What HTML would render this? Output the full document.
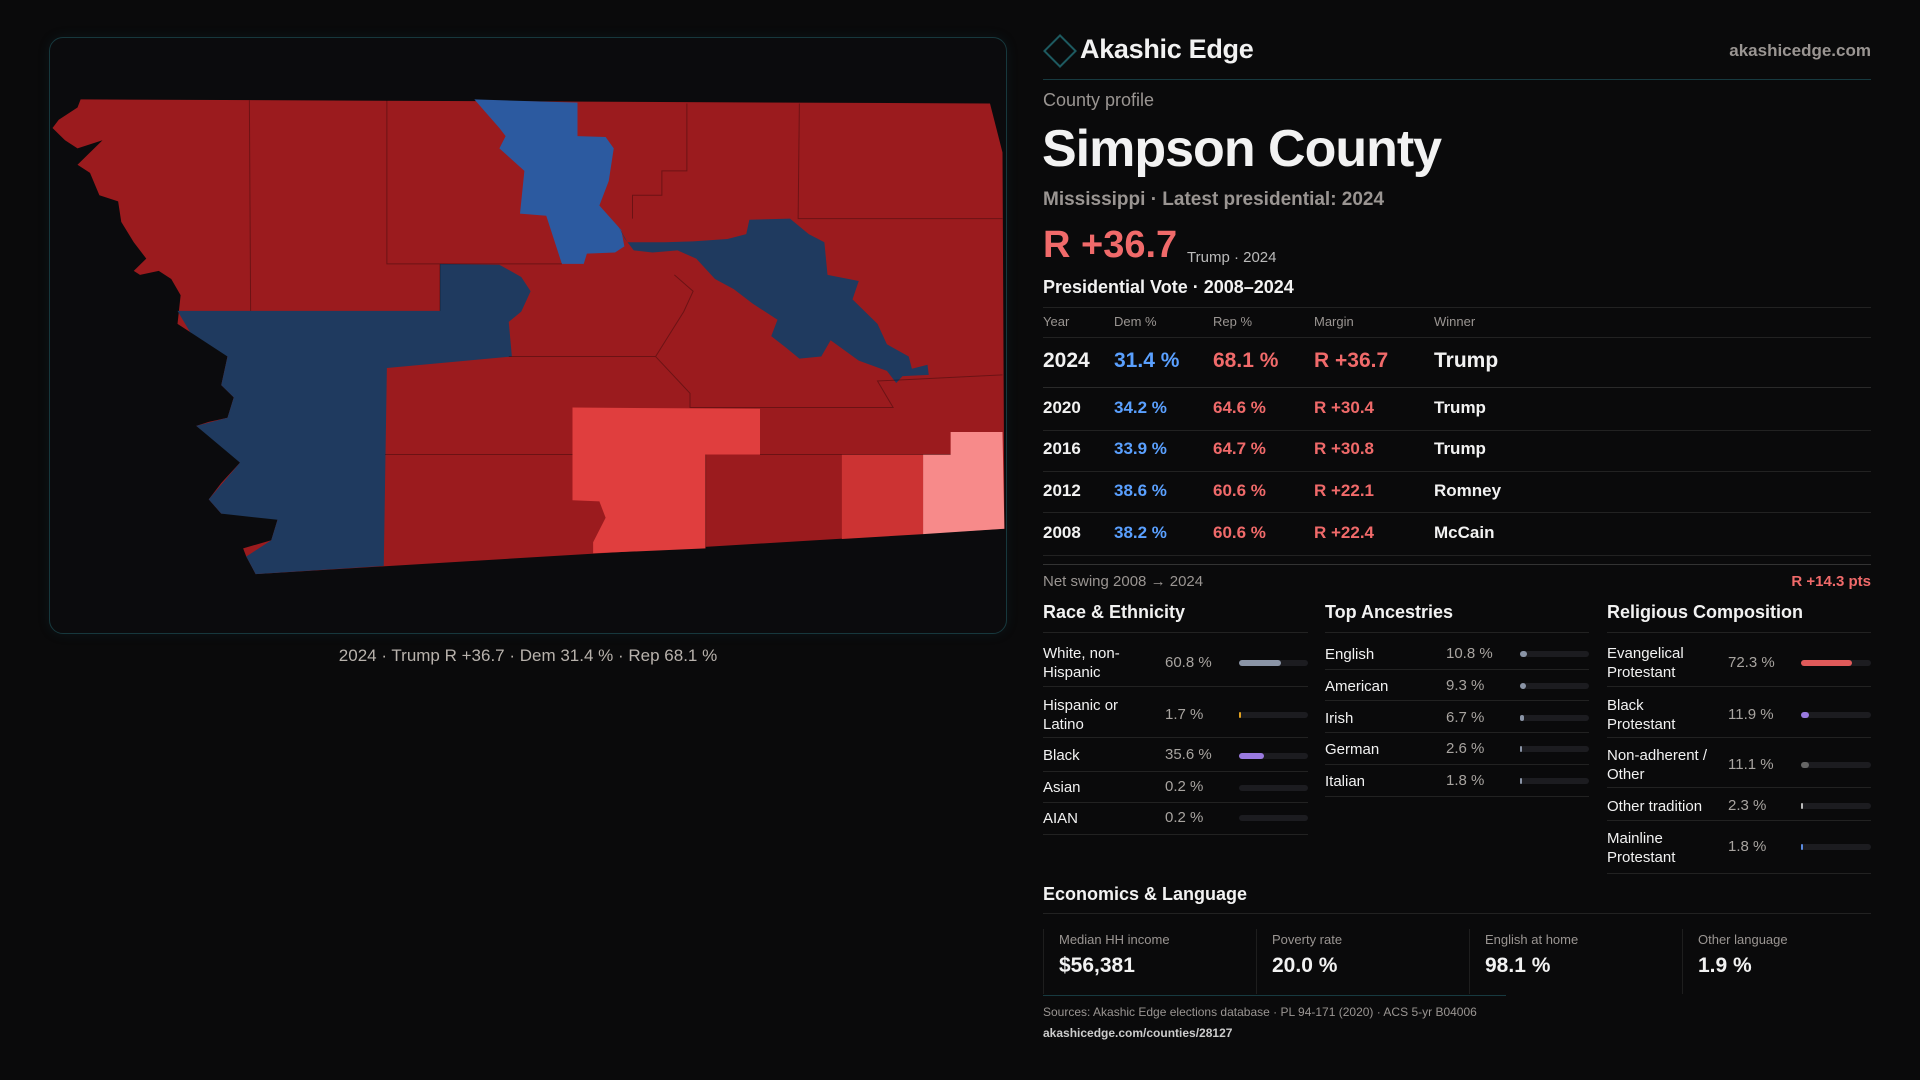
<!DOCTYPE html>
<html><head><meta charset="utf-8"><style>
*{margin:0;padding:0;box-sizing:border-box}
body{width:1920px;height:1080px;background:#0a0a0b;font-family:"Liberation Sans",sans-serif;color:#f2f2f2;position:relative;overflow:hidden}
.a{position:absolute;white-space:nowrap}
.panel{position:absolute;left:49px;top:37px;width:958px;height:597px;border:1px solid #17383d;border-radius:14px;background:#0b0b0d;box-shadow:0 0 12px rgba(30,90,100,0.15)}
.g{color:#9a9592}
.hl{position:absolute;height:1px;background:#222}
.dem{color:#5aa0ff}.rep{color:#f06a6a}
.bar{position:absolute;height:6px;border-radius:3px;background:#1c1c20}
.bar i{position:absolute;left:0;top:0;height:6px;border-radius:3px}
.lab{font-size:15px;line-height:19px}
.val{font-size:15px;color:#a8a4a0}
</style></head><body>
<div class="panel"></div>
<svg class="a" style="left:40px;top:30px" width="980" height="640" viewBox="0 0 1568 1568" preserveAspectRatio="none">
<polygon fill="#9b1b1e" points="65,170 1520,180 1540,300 1543,1222 345,1333 330,1290 325,1270 370,1250 380,1200 370,1180 290,1185 270,1150 290,1110 320,1060 300,1030 250,970 270,960 300,950 310,900 290,870 300,800 280,770 240,740 220,720 225,650 210,610 190,590 160,600 150,590 170,560 150,520 130,470 125,420 95,405 80,350 60,330 80,300 100,270 60,290 40,270 20,240 30,220 60,190"/>
<polygon fill="#2c5aa0" points="695,170 860,178 860,260 905,262 918,290 910,370 895,430 930,490 935,530 920,545 875,548 870,573 835,573 810,455 768,450 775,345 735,290 745,260 735,240 712,200"/>
<polygon fill="#1f3a5f" points="220,688 640,688 640,573 735,575 770,605 785,640 770,690 750,715 755,800 555,828 550,1313 345,1333 330,1290 370,1250 380,1200 290,1185 270,1150 320,1060 250,970 300,950 310,900 290,870 300,800 240,740"/>
<polygon fill="#1f3a5f" points="925,480 940,520 1000,520 1045,518 1100,512 1130,500 1135,465 1200,462 1230,500 1255,520 1260,600 1310,615 1300,660 1340,720 1355,770 1390,800 1395,830 1420,820 1422,845 1380,848 1370,865 1355,835 1310,810 1265,760 1250,800 1215,805 1195,780 1170,750 1180,710 1140,670 1110,635 1080,610 1050,560 1020,540 980,545 950,540 935,510"/>
<polygon fill="#e03e3e" points="852,925 1152,928 1152,1040 1065,1040 1065,1270 885,1282 885,1255 905,1195 895,1155 852,1152"/>
<polygon fill="#cc3333" points="1283,1040 1413,1040 1413,1235 1283,1247"/>
<polygon fill="#f78a8a" points="1457,985 1540,985 1543,1222 1413,1235 1413,1040 1457,1040"/>
<g stroke="rgba(0,0,0,0.3)" stroke-width="1" fill="none" vector-effect="non-scaling-stroke">
<path vector-effect="non-scaling-stroke" d="M335,172 L337,688 M555,172 L555,573 L835,573 M640,688 L640,573 M1035,180 L1035,345 L995,345 L995,405 L948,405 L948,462 M1215,180 L1213,462 L1540,462 M750,800 L985,800 L1030,690 L1045,640 L1015,600 M985,800 L1040,890 L1040,925 L1365,925 L1340,860 L1540,845 M552,1040 L852,1040 M1152,1040 L1457,1040 M1065,1040 L1065,1270"/>
</g>
</svg>
<div class="a g" style="left:0;width:1056px;text-align:center;top:646px;font-size:17px;color:#b8b2ac">2024 · Trump R +36.7 · Dem 31.4 % · Rep 68.1 %</div>

<div class="a" style="left:1048px;top:39px;width:24px;height:24px;border:2px solid #1d5a60;transform:rotate(45deg)"></div>
<div class="a" style="left:1080px;top:34px;font-size:27px;font-weight:bold;letter-spacing:-0.3px">Akashic Edge</div>
<div class="a g" style="right:49px;top:41px;font-size:17px;font-weight:bold">akashicedge.com</div>
<div class="hl" style="left:1043px;width:828px;top:79px;background:#173a40"></div>
<div class="a g" style="left:1043px;top:90px;font-size:18px">County profile</div>
<div class="a" style="left:1042px;top:119px;font-size:52px;font-weight:bold;letter-spacing:-1px">Simpson County</div>
<div class="a g" style="left:1043px;top:189px;font-size:19px;font-weight:bold">Mississippi · Latest presidential: 2024</div>
<div class="a rep" style="left:1043px;top:224px;font-size:38px;font-weight:bold">R +36.7</div>
<div class="a g" style="left:1187px;top:249px;font-size:15px;color:#bbb">Trump · 2024</div>
<div class="a" style="left:1043px;top:277px;font-size:18px;font-weight:bold">Presidential Vote · 2008–2024</div>
<div class="hl" style="left:1043px;width:828px;top:307px"></div>
<div class="a g" style="left:1043px;top:314px;font-size:13px">Year</div>
<div class="a g" style="left:1114px;top:314px;font-size:13px">Dem %</div>
<div class="a g" style="left:1213px;top:314px;font-size:13px">Rep %</div>
<div class="a g" style="left:1314px;top:314px;font-size:13px">Margin</div>
<div class="a g" style="left:1434px;top:314px;font-size:13px">Winner</div>
<div class="hl" style="left:1043px;width:828px;top:337px"></div>
<div class="a" style="left:1043px;top:349px;font-size:21px;font-weight:bold">2024</div>
<div class="a dem" style="left:1114px;top:349px;font-size:21px;font-weight:bold">31.4 %</div>
<div class="a rep" style="left:1213px;top:349px;font-size:21px;font-weight:bold">68.1 %</div>
<div class="a rep" style="left:1314px;top:349px;font-size:21px;font-weight:bold">R +36.7</div>
<div class="a" style="left:1434px;top:349px;font-size:21px;font-weight:bold">Trump</div>
<div class="hl" style="left:1043px;width:828px;top:387px;background:#2a2a2a"></div>
<div style="position:absolute;left:1043px;top:398px;font-size:17px;font-weight:bold">
<div class="a" style="top:0">2020</div><div class="a dem" style="left:71px;top:0">34.2 %</div><div class="a rep" style="left:170px;top:0">64.6 %</div><div class="a rep" style="left:271px;top:0">R +30.4</div><div class="a" style="left:391px;top:0">Trump</div>
<div class="a" style="top:41px">2016</div><div class="a dem" style="left:71px;top:41px">33.9 %</div><div class="a rep" style="left:170px;top:41px">64.7 %</div><div class="a rep" style="left:271px;top:41px">R +30.8</div><div class="a" style="left:391px;top:41px">Trump</div>
<div class="a" style="top:83px">2012</div><div class="a dem" style="left:71px;top:83px">38.6 %</div><div class="a rep" style="left:170px;top:83px">60.6 %</div><div class="a rep" style="left:271px;top:83px">R +22.1</div><div class="a" style="left:391px;top:83px">Romney</div>
<div class="a" style="top:125px">2008</div><div class="a dem" style="left:71px;top:125px">38.2 %</div><div class="a rep" style="left:170px;top:125px">60.6 %</div><div class="a rep" style="left:271px;top:125px">R +22.4</div><div class="a" style="left:391px;top:125px">McCain</div>
</div>
<div class="hl" style="left:1043px;width:828px;top:430px"></div>
<div class="hl" style="left:1043px;width:828px;top:471px"></div>
<div class="hl" style="left:1043px;width:828px;top:512px"></div>
<div class="hl" style="left:1043px;width:828px;top:555px"></div>
<div class="hl" style="left:1043px;width:828px;top:564px;background:#333"></div>
<div class="a g" style="left:1043px;top:573px;font-size:15px">Net swing 2008 → 2024</div>
<div class="a rep" style="right:49px;top:573px;font-size:15px;font-weight:bold">R +14.3 pts</div>

<div class="a" style="left:1043px;top:602px;font-size:18px;font-weight:bold">Race &amp; Ethnicity</div>
<div class="a" style="left:1325px;top:602px;font-size:18px;font-weight:bold">Top Ancestries</div>
<div class="a" style="left:1607px;top:602px;font-size:18px;font-weight:bold">Religious Composition</div>
<div class="hl" style="left:1043px;width:265px;top:632px"></div>
<div class="hl" style="left:1325px;width:264px;top:632px"></div>
<div class="hl" style="left:1607px;width:264px;top:632px"></div>

<div class="a lab" style="left:1043px;top:644px">White, non-<br>Hispanic</div><div class="a val" style="left:1165px;top:654px">60.8 %</div><div class="bar" style="left:1239px;top:660px;width:69px"><i style="width:42px;background:#8a94a6"></i></div>
<div class="hl" style="left:1043px;width:265px;top:686px"></div>
<div class="a lab" style="left:1043px;top:696px">Hispanic or<br>Latino</div><div class="a val" style="left:1165px;top:706px">1.7 %</div><div class="bar" style="left:1239px;top:712px;width:69px"><i style="width:2px;background:#e0a020"></i></div>
<div class="hl" style="left:1043px;width:265px;top:737px"></div>
<div class="a lab" style="left:1043px;top:746px">Black</div><div class="a val" style="left:1165px;top:746px">35.6 %</div><div class="bar" style="left:1239px;top:753px;width:69px"><i style="width:25px;background:#9a7ae0"></i></div>
<div class="hl" style="left:1043px;width:265px;top:771px"></div>
<div class="a lab" style="left:1043px;top:778px">Asian</div><div class="a val" style="left:1165px;top:778px">0.2 %</div><div class="bar" style="left:1239px;top:785px;width:69px"></div>
<div class="hl" style="left:1043px;width:265px;top:802px"></div>
<div class="a lab" style="left:1043px;top:809px">AIAN</div><div class="a val" style="left:1165px;top:809px">0.2 %</div><div class="bar" style="left:1239px;top:815px;width:69px"></div>
<div class="hl" style="left:1043px;width:265px;top:834px"></div>

<div class="a lab" style="left:1325px;top:645px">English</div><div class="a val" style="left:1446px;top:645px">10.8 %</div><div class="bar" style="left:1520px;top:651px;width:69px"><i style="width:7px;background:#8a94a6"></i></div>
<div class="hl" style="left:1325px;width:264px;top:669px"></div>
<div class="a lab" style="left:1325px;top:677px">American</div><div class="a val" style="left:1446px;top:677px">9.3 %</div><div class="bar" style="left:1520px;top:683px;width:69px"><i style="width:6px;background:#8a94a6"></i></div>
<div class="hl" style="left:1325px;width:264px;top:700px"></div>
<div class="a lab" style="left:1325px;top:709px">Irish</div><div class="a val" style="left:1446px;top:709px">6.7 %</div><div class="bar" style="left:1520px;top:715px;width:69px"><i style="width:4px;background:#8a94a6"></i></div>
<div class="hl" style="left:1325px;width:264px;top:732px"></div>
<div class="a lab" style="left:1325px;top:740px">German</div><div class="a val" style="left:1446px;top:740px">2.6 %</div><div class="bar" style="left:1520px;top:746px;width:69px"><i style="width:2px;background:#8a94a6"></i></div>
<div class="hl" style="left:1325px;width:264px;top:764px"></div>
<div class="a lab" style="left:1325px;top:772px">Italian</div><div class="a val" style="left:1446px;top:772px">1.8 %</div><div class="bar" style="left:1520px;top:778px;width:69px"><i style="width:2px;background:#8a94a6"></i></div>
<div class="hl" style="left:1325px;width:264px;top:796px"></div>

<div class="a lab" style="left:1607px;top:644px">Evangelical<br>Protestant</div><div class="a val" style="left:1728px;top:654px">72.3 %</div><div class="bar" style="left:1801px;top:660px;width:70px"><i style="width:51px;background:#e05a5a"></i></div>
<div class="hl" style="left:1607px;width:264px;top:686px"></div>
<div class="a lab" style="left:1607px;top:696px">Black<br>Protestant</div><div class="a val" style="left:1728px;top:706px">11.9 %</div><div class="bar" style="left:1801px;top:712px;width:70px"><i style="width:8px;background:#9a7ae0"></i></div>
<div class="hl" style="left:1607px;width:264px;top:737px"></div>
<div class="a lab" style="left:1607px;top:746px">Non-adherent /<br>Other</div><div class="a val" style="left:1728px;top:756px">11.1 %</div><div class="bar" style="left:1801px;top:762px;width:70px"><i style="width:8px;background:#666"></i></div>
<div class="hl" style="left:1607px;width:264px;top:787px"></div>
<div class="a lab" style="left:1607px;top:797px">Other tradition</div><div class="a val" style="left:1728px;top:797px">2.3 %</div><div class="bar" style="left:1801px;top:803px;width:70px"><i style="width:2px;background:#bbb"></i></div>
<div class="hl" style="left:1607px;width:264px;top:820px"></div>
<div class="a lab" style="left:1607px;top:829px">Mainline<br>Protestant</div><div class="a val" style="left:1728px;top:838px">1.8 %</div><div class="bar" style="left:1801px;top:844px;width:70px"><i style="width:2px;background:#5a8ae0"></i></div>
<div class="hl" style="left:1607px;width:264px;top:873px"></div>

<div class="a" style="left:1043px;top:884px;font-size:18px;font-weight:bold">Economics &amp; Language</div>
<div class="hl" style="left:1043px;width:828px;top:913px"></div>
<div class="a" style="left:1043px;top:929px;width:1px;height:65px;background:#1e1e1e"></div>
<div class="a" style="left:1256px;top:929px;width:1px;height:65px;background:#1e1e1e"></div>
<div class="a" style="left:1469px;top:929px;width:1px;height:65px;background:#1e1e1e"></div>
<div class="a" style="left:1682px;top:929px;width:1px;height:65px;background:#1e1e1e"></div>
<div class="a g" style="left:1059px;top:932px;font-size:13px">Median HH income</div>
<div class="a g" style="left:1272px;top:932px;font-size:13px">Poverty rate</div>
<div class="a g" style="left:1485px;top:932px;font-size:13px">English at home</div>
<div class="a g" style="left:1698px;top:932px;font-size:13px">Other language</div>
<div class="a" style="left:1059px;top:954px;font-size:21px;font-weight:bold">$56,381</div>
<div class="a" style="left:1272px;top:954px;font-size:21px;font-weight:bold">20.0 %</div>
<div class="a" style="left:1485px;top:954px;font-size:21px;font-weight:bold">98.1 %</div>
<div class="a" style="left:1698px;top:954px;font-size:21px;font-weight:bold">1.9 %</div>
<div class="hl" style="left:1043px;width:463px;top:995px;background:#173a40"></div>
<div class="a g" style="left:1043px;top:1005px;font-size:12px">Sources: Akashic Edge elections database · PL 94-171 (2020) · ACS 5-yr B04006</div>
<div class="a" style="left:1043px;top:1026px;font-size:12px;color:#ccc;font-weight:bold">akashicedge.com/counties/28127</div>
</body></html>
